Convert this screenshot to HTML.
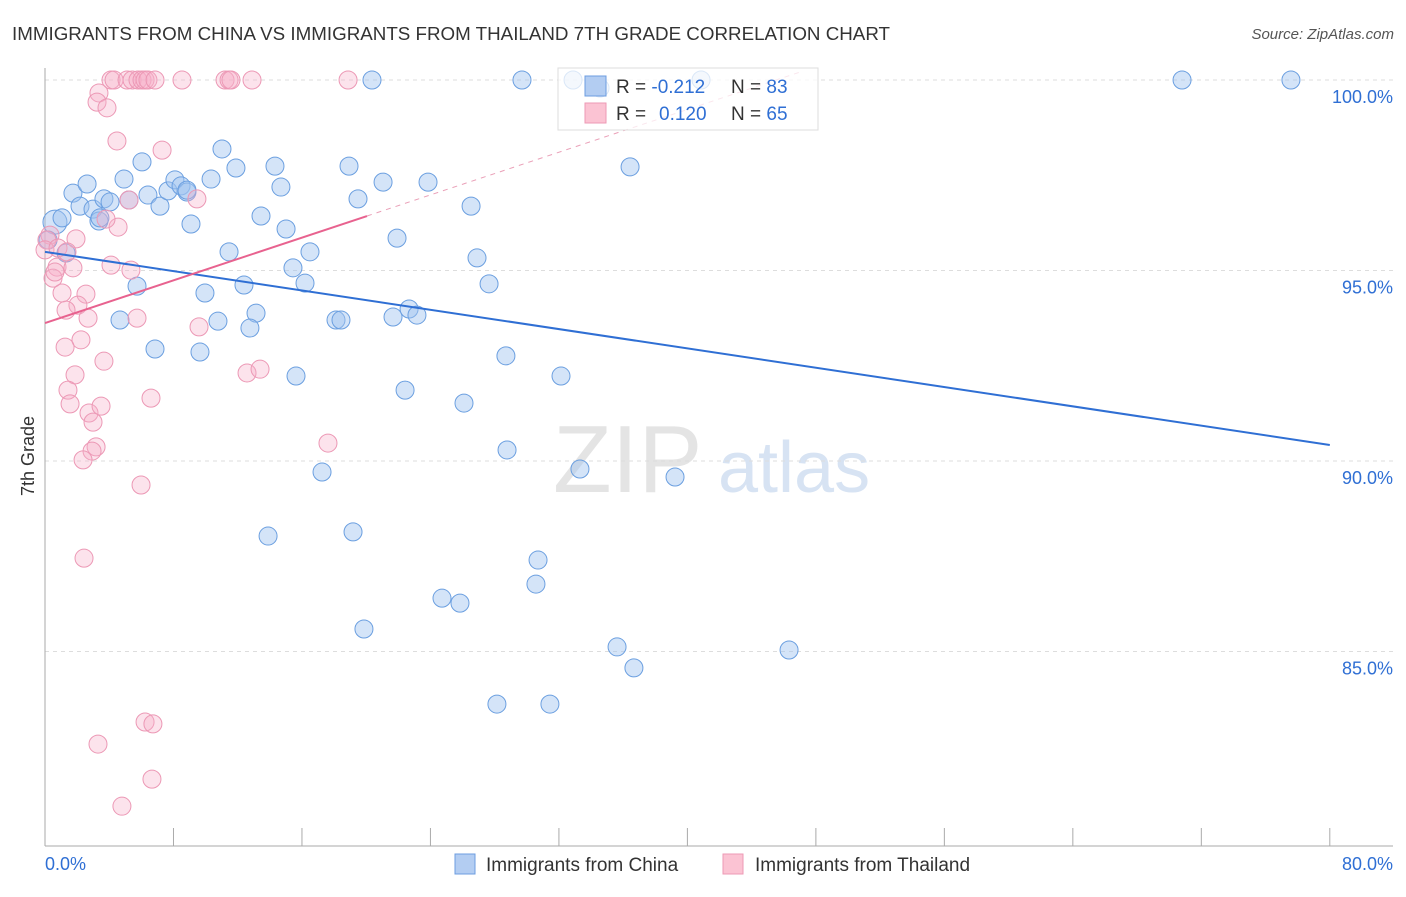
<!DOCTYPE html>
<html><head><meta charset="utf-8"><style>
body{margin:0;background:#fff;font-family:"Liberation Sans",sans-serif}
svg text{font-family:"Liberation Sans",sans-serif}
</style></head><body>
<svg id="chart" width="1406" height="892">
<text x="12" y="40" font-size="18" fill="#333" textLength="878" lengthAdjust="spacingAndGlyphs">IMMIGRANTS FROM CHINA VS IMMIGRANTS FROM THAILAND 7TH GRADE CORRELATION CHART</text>
<text x="1394" y="39" font-size="15" fill="#555" font-style="italic" text-anchor="end">Source: ZipAtlas.com</text>
<g><text x="553" y="492" font-size="96" font-family="Liberation Serif" fill="#e4e4e4">ZIP</text><text x="718" y="492" font-size="72" fill="#d7e3f3">atlas</text></g>
<g id="grid"></g><g id="axes"></g><g id="pts"></g><g id="lines"></g>
<g>
<rect x="558" y="68" width="260" height="62" fill="rgba(255,255,255,0.75)" stroke="#ddd"/>
<rect x="585" y="76" width="21" height="20" fill="#b3cdf2" stroke="#6d9de0"/>
<rect x="585" y="103" width="21" height="20" fill="#fbc3d3" stroke="#ee9ab5"/>
<text x="616" y="93" font-size="19" fill="#333">R = <tspan fill="#2f6fd4">-0.212</tspan><tspan x="731">N = </tspan><tspan fill="#2f6fd4">83</tspan></text>
<text x="616" y="120" font-size="19" fill="#333">R = <tspan fill="#2f6fd4" x="659">0.120</tspan><tspan x="731">N = </tspan><tspan fill="#2f6fd4">65</tspan></text>
</g>
<text transform="translate(34,456) rotate(-90)" font-size="18" fill="#333" text-anchor="middle">7th Grade</text>
<g>
<rect x="455" y="854" width="20" height="20" fill="#b3cdf2" stroke="#6d9de0"/>
<text x="486" y="871" font-size="19" fill="#333">Immigrants from China</text>
<rect x="723" y="854" width="20" height="20" fill="#fbc3d3" stroke="#ee9ab5"/>
<text x="755" y="871" font-size="19" fill="#333">Immigrants from Thailand</text>
</g>
</svg>
<script>
const chinaX=[0.62,1.06,1.74,2.62,2.18,2.99,3.36,3.67,4.05,4.92,5.23,6.04,6.41,7.16,7.66,8.09,8.47,8.84,9.09,10.34,11.02,11.89,13.45,14.32,14.69,15.01,11.46,5.73,9.96,12.39,13.14,10.77,12.76,4.67,6.85,9.65,15.44,16.19,16.5,18.93,19.49,20.36,21.05,21.92,23.85,26.53,26.9,27.65,18.12,18.43,21.67,22.67,23.16,15.63,22.42,26.09,28.7,32.13,28.77,33.31,39.23,17.25,13.89,19.18,30.7,30.57,24.72,25.84,19.86,35.62,36.67,46.33,28.14,31.44,29.7,32.88,36.43,70.8,77.58,1.31,0.19,3.42,8.84,34.56,40.85];
const chinaY=[96.27,96.38,97.03,97.27,96.69,96.61,96.3,96.88,96.8,97.4,96.85,97.85,96.98,96.69,97.09,97.38,97.22,97.06,96.22,97.4,98.19,97.69,96.43,97.74,97.19,96.09,95.49,94.59,94.41,94.62,93.88,93.67,93.49,93.7,92.94,92.86,95.07,94.67,95.49,97.74,96.88,100,97.32,95.85,97.32,96.69,95.33,94.65,93.7,93.7,93.78,93.99,93.83,92.23,91.86,91.52,92.76,92.23,90.29,89.79,89.58,89.71,88.03,88.14,87.4,86.77,86.4,86.27,85.59,85.12,84.57,85.04,83.62,83.62,100,100,97.72,100,100,95.46,95.8,96.38,97.11,99.79,100];
const thaiX=[4.11,4.3,5.11,5.42,5.79,6.04,6.23,6.41,6.85,8.53,11.21,11.46,11.58,12.89,18.87,3.36,3.24,3.86,4.48,7.29,5.23,9.46,4.55,3.8,1.93,0.31,0.12,0.0,0.81,1.37,0.75,0.5,1.74,0.62,1.06,2.55,2.05,4.11,5.35,1.31,2.68,5.73,9.59,2.24,1.25,3.67,1.87,12.58,13.39,1.43,1.56,6.6,2.74,3.49,2.99,3.18,2.93,2.37,5.98,17.62,2.43,6.23,6.72,3.3,6.66,4.79];
const thaiY=[100,100,100,100,100,100,100,100,100,100,100,100,100,100,100,99.66,99.42,99.27,98.4,98.16,96.85,96.88,96.14,96.35,95.83,95.93,95.8,95.54,95.59,95.49,95.09,94.8,95.07,94.96,94.41,94.38,94.09,95.14,95.01,93.96,93.75,93.75,93.52,93.18,92.99,92.62,92.26,92.31,92.41,91.86,91.5,91.65,91.26,91.44,91.02,90.37,90.26,90.03,89.37,90.47,87.45,83.15,83.1,82.57,81.65,80.94];
const yTicks=[100,95,90,85];
const yTickLabels=["100.0%","95.0%","90.0%","85.0%"];
const xTicks=[0,8,16,24,32,40,48,56,64,72,80];
const chinaTrend=[95.49,90.42]; // at x=0, x=80
const thaiTrend=[93.62,96.43]; // at x=0, x=20.05
const thaiTrendEnd=20.05;

const X=v=>45+v*16.06, Y=v=>80+(100-v)*38.1;
const NS="http://www.w3.org/2000/svg";
function mk(tag,attrs,parent){const e=document.createElementNS(NS,tag);for(const k in attrs)e.setAttribute(k,attrs[k]);document.getElementById(parent).appendChild(e);return e;}
yTicks.forEach((t,i)=>{
 const l=mk('line',{x1:45,x2:1393,y1:Y(t),y2:Y(t),stroke:'#ddd','stroke-dasharray':'4,4'},'grid');
 
 
 const tx=mk('text',{x:1393,y:Y(t)+23,'font-size':18,fill:'#2f6fd4','text-anchor':'end'},'axes');
 tx.textContent=yTickLabels[i];
 
 
});
const ax=mk('line',{x1:45,x2:45,y1:68,y2:846,stroke:'#aaa'},'axes');


const bx=mk('line',{x1:45,x2:1393,y1:846,y2:846,stroke:'#aaa'},'axes');


xTicks.forEach(t=>{const l=mk('line',{x1:X(t),x2:X(t),y1:828,y2:846,stroke:'#aaa'},'axes');
 
 });
const x0=mk('text',{x:45,y:870,'font-size':18,fill:'#2f6fd4'},'axes');x0.textContent='0.0%';


const x1=mk('text',{x:1393,y:870,'font-size':18,fill:'#2f6fd4','text-anchor':'end'},'axes');x1.textContent='80.0%';


chinaX.forEach((v,i)=>{const c=mk('circle',{cx:X(v),cy:Y(chinaY[i]),r:(i<1?12:9),fill:'rgba(160,196,240,0.45)',stroke:'#6b9fe0','stroke-width':1},'pts');
 
 });
thaiX.forEach((v,i)=>{const c=mk('circle',{cx:X(v),cy:Y(thaiY[i]),r:9,fill:'rgba(247,176,200,0.35)',stroke:'#ec98b5','stroke-width':1},'pts');
 
 });
const bl=mk('line',{x1:X(0),y1:Y(chinaTrend[0]),x2:X(80),y2:Y(chinaTrend[1]),stroke:'#2f6fd4','stroke-width':2},'lines');


const pl=mk('line',{x1:X(0),y1:Y(thaiTrend[0]),x2:X(thaiTrendEnd),y2:Y(thaiTrend[1]),stroke:'#e8628f','stroke-width':2},'lines');


const slope=(thaiTrend[1]-thaiTrend[0])/thaiTrendEnd, xe=(100.2-thaiTrend[0])/slope;
const pd=mk('line',{x1:X(thaiTrendEnd),y1:Y(thaiTrend[1]),x2:X(xe),y2:Y(100.2),stroke:'#eaa0b8','stroke-width':1,'stroke-dasharray':'5,5'},'lines');


</script>
</body></html>
